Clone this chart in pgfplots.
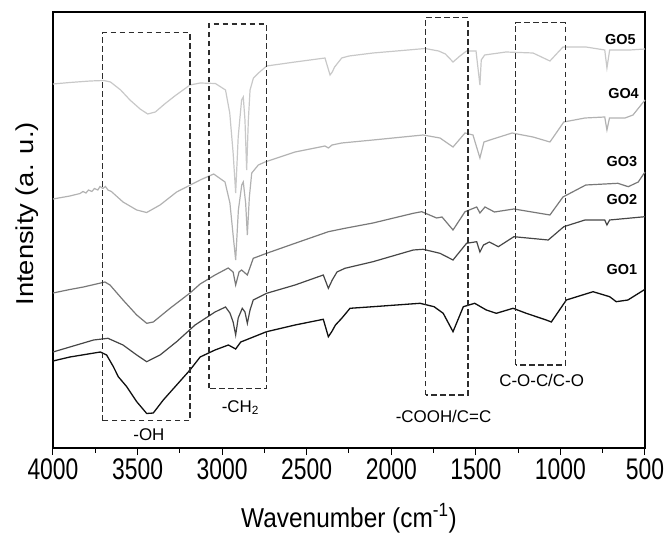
\documentclass[border=0pt]{standalone}
\usepackage{fontspec}
\setmainfont{Liberation Sans}
\usepackage{graphicx}
\usepackage{pgfplots}
\pgfplotsset{compat=1.18}
\definecolor{cfive}{RGB}{200,200,200}
\definecolor{cfour}{RGB}{178,178,178}
\definecolor{cthree}{RGB}{120,120,120}
\definecolor{ctwo}{RGB}{70,70,70}
\definecolor{cone}{RGB}{15,15,15}
\definecolor{cbox}{RGB}{45,45,45}
\begin{document}
\begin{tikzpicture}
\useasboundingbox (-53bp,-85bp) rectangle (614bp,448bp);
\begin{axis}[
  at={(0,0)}, anchor=south west,
  scale only axis, width=592bp, height=436bp,
  xmin=500, xmax=4000, x dir=reverse, ymin=0, ymax=436,
  clip=false,
  axis line style={line width=1.2bp, black},
  xtick={500,1000,...,4000}, minor x tick num=1,
  xtick pos=bottom, tick align=outside, ytick=\empty,
  major tick length=7bp, minor tick length=4.5bp,
  tick style={line width=1bp, black},
  xticklabel={\scalebox{1}[1.3]{\pgfmathprintnumber[assume math mode=true,1000 sep={}]{\tick}}},
  xticklabel style={font=\fontsize{23}{23}\selectfont},
  xlabel={\scalebox{1}[1.12]{Wavenumber (cm\textsuperscript{-1})}},
  xlabel style={font=\fontsize{24.5}{24.5}\selectfont, at={(axis description cs:0.5,-0.1812)}, anchor=base},
  ylabel={\scalebox{1.12}[1]{Intensity (a. u.)}},
  ylabel style={font=\fontsize{24.5}{24.5}\selectfont, at={(axis description cs:-0.0333,0.537)}, anchor=base},
]
% GO5
\addplot[cfive, line width=1.2bp] table {
4000 364
3900 365.5
3780 367
3700 367.5
3660 366
3600 358
3545 348
3485 339
3440 334
3395 336
3340 344
3280 352
3190 363
3130 365
3040 364.5
2980 358
2955 335
2935 295
2920 255
2905 311
2885 348
2875 351
2865 328
2855 278
2845 328
2835 358
2815 370
2785 375
2737 382
2569 386
2392 390
2362 373
2349 376
2335 381
2293 390
2250 392
2108 395
1900 398
1800 399.5
1720 397
1680 394
1635 386
1594 392
1555 397
1499 397
1476 363
1468 388
1448 393
1322 396
1162 395
1062 387
985 401
849 401
738 398
725 380
709 398
589 398
500 399
};
% GO4
\addplot[cfour, line width=1.2bp] table {
4000 249
3900 252
3840 254.5
3823 256.5
3805 255
3790 258
3770 256.5
3755 259.5
3735 258
3722 261.5
3705 259.5
3690 261.5
3675 258
3655 256.5
3586 246
3505 238
3446 235.5
3367 243
3269 256
3130 268
3050 274
2983 266
2954 245
2934 211
2920 188
2904 238
2884 263
2875 266
2861 245
2851 213
2839 251
2825 275
2786 283
2747 286
2569 296
2392 302
2372 300
2350 303
2293 305
2108 308
1812 313
1712 310
1635 301
1564 315
1517 313
1476 290
1452 306
1417 308
1286 315
1162 311
1062 306
980 326
855 330
738 331
725 318
710 330
618 330
571 333
500 348
};
% GO3
\addplot[cthree, line width=1.2bp] table {
4000 155
3900 158.5
3820 161
3693 166
3663 163
3586 148
3505 133
3446 124.7
3407 126
3308 139.7
3190 155
3130 164
3042 173
2964 180
2935 176
2920 163
2900 176
2885 178
2851 173
2816 189.7
2737 194.7
2569 204.7
2372 216.3
2274 219.7
2108 225
1870 234.7
1820 236.3
1732 230
1700 231
1635 218
1564 236.3
1495 241
1476 235
1446 241
1390 236
1275 239
1062 233
985 251
850 263
660 264.7
599 261.3
540 266
500 276
};
% GO2
\addplot[ctwo, line width=1.2bp] table {
4000 96
3900 101
3760 108
3675 109.7
3586 103
3505 93
3446 86.3
3367 93
3269 106.3
3160 123
3042 136
2980 141
2954 135
2935 126
2920 113
2905 130
2881 139.7
2865 136
2851 124.7
2835 138
2816 148
2737 154.7
2569 163
2402 173
2372 159.7
2349 168
2321 176
2274 179.7
2108 186.3
1870 198
1812 198.7
1712 194.7
1635 188
1555 204.7
1495 206.3
1476 196
1455 203
1420 206
1367 201.3
1275 211.3
1072 208
980 221.3
855 228
738 228
725 223
709 228
500 231.3
};
% GO1
\addplot[cone, line width=1.3bp] table {
4000 87
3900 91
3720 96
3683 93
3643 81.3
3614 71.3
3564 61.3
3505 46.3
3446 34.5
3407 35
3348 48
3269 63
3190 78
3130 91
3042 98
2963 103
2920 99
2890 106
2737 116.3
2569 123
2402 128.7
2372 111.3
2352 116.3
2330 123
2293 129.7
2244 139.7
2108 141.3
1830 144.7
1747 141.3
1693 134.7
1635 116.3
1574 141.3
1507 144.7
1438 138
1379 134.7
1280 139.7
1202 134.7
1084 128
1054 126
965 148
807 156.3
709 151.3
670 146.3
601 148
500 158.7
};
% dashed boxes
\draw[cbox, line width=1.4bp, dash pattern=on 5.5bp off 3.5bp] (axis cs:3706,27.3) rectangle (axis cs:3190,415.3);
\draw[cbox, line width=1.4bp, dash pattern=on 5.5bp off 3.5bp] (axis cs:3078,59.7) rectangle (axis cs:2737,424);
\draw[cbox, line width=1.4bp, dash pattern=on 5.5bp off 3.5bp] (axis cs:1797,53) rectangle (axis cs:1547,430.3);
\draw[cbox, line width=1.4bp, dash pattern=on 5.5bp off 3.5bp] (axis cs:1265,83) rectangle (axis cs:971,425.3);
% annotations
\node[anchor=base, font=\fontsize{17}{17}\selectfont, inner sep=0pt] at (axis cs:3433,8) {-OH};
\node[anchor=base, font=\fontsize{17}{17}\selectfont, inner sep=0pt] at (axis cs:2892,36) {-CH\textsubscript{2}};
\node[anchor=base, font=\fontsize{17}{17}\selectfont, inner sep=0pt] at (axis cs:1691,25.3) {-COOH/C=C};
\node[anchor=base, font=\fontsize{17}{17}\selectfont, inner sep=0pt] at (axis cs:1111,61.3) {C-O-C/C-O};
\node[anchor=base, font=\bfseries\fontsize{14.5}{14.5}\selectfont, inner sep=0pt] at (axis cs:645,403) {GO5};
\node[anchor=base, font=\bfseries\fontsize{14.5}{14.5}\selectfont, inner sep=0pt] at (axis cs:627,349.7) {GO4};
\node[anchor=base, font=\bfseries\fontsize{14.5}{14.5}\selectfont, inner sep=0pt] at (axis cs:636,281.3) {GO3};
\node[anchor=base, font=\bfseries\fontsize{14.5}{14.5}\selectfont, inner sep=0pt] at (axis cs:636,243) {GO2};
\node[anchor=base, font=\bfseries\fontsize{14.5}{14.5}\selectfont, inner sep=0pt] at (axis cs:636,173) {GO1};
\end{axis}
\end{tikzpicture}
\end{document}
